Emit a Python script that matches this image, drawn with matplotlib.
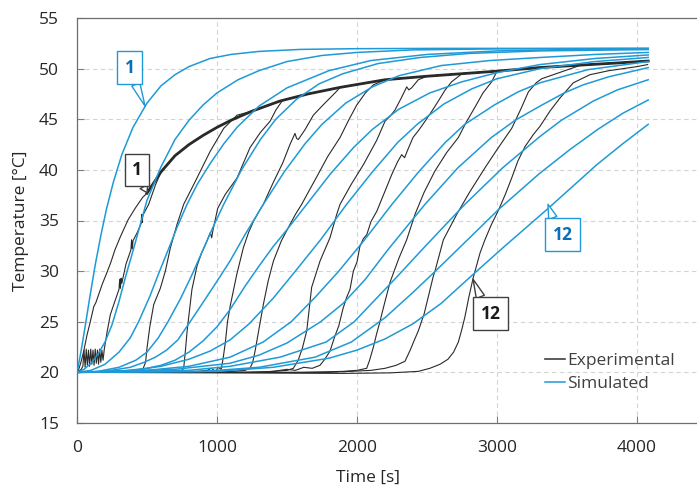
import matplotlib
matplotlib.use('Agg')
import matplotlib.pyplot as plt
from matplotlib.lines import Line2D

# --- simulated temperature curves (time [s], temperature [°C]) ---
sim1_t = [0, 20, 40, 60, 90, 130, 170, 210, 260, 320, 400, 500, 600, 700, 800, 950, 1100, 1300, 1600, 2000, 2600, 3300, 4080]
sim1_T = [20.0, 21.4, 23.0, 24.7, 27.3, 30.6, 33.5, 36.1, 38.8, 41.5, 44.2, 46.6, 48.3, 49.4, 50.2, 51.0, 51.4, 51.7, 51.9, 51.97, 52.0, 52.0, 52.0]

sim2_t = [0, 50, 100, 150, 200, 250, 300, 350, 400, 450, 500, 600, 700, 800, 900, 1000, 1150, 1300, 1500, 1750, 2000, 2400, 3000, 4080]
sim2_T = [20.0, 20.3, 20.9, 21.8, 23.0, 24.7, 27.0, 29.6, 32.0, 34.5, 37.0, 40.3, 43.0, 44.9, 46.4, 47.6, 48.9, 49.8, 50.7, 51.3, 51.6, 51.85, 51.95, 52.0]

sim3_t = [0, 100, 200, 300, 380, 440, 520, 590, 660, 720, 786, 860, 950, 1050, 1143, 1300, 1500, 1800, 2100, 2500, 3000, 3500, 4080]
sim3_T = [20.0, 20.2, 20.8, 22.0, 23.4, 25.0, 27.5, 30.0, 32.4, 34.5, 36.6, 38.6, 40.6, 42.6, 44.2, 46.3, 48.1, 49.8, 50.8, 51.4, 51.75, 51.88, 51.93]

sim4_t = [0, 150, 300, 420, 500, 580, 650, 740, 820, 900, 970, 1048, 1175, 1310, 1420, 1570, 1730, 1900, 2150, 2450, 2800, 3300, 4080]
sim4_T = [20.0, 20.1, 20.5, 21.2, 22.0, 23.4, 25.0, 27.3, 29.6, 32.1, 34.3, 36.6, 40.0, 43.0, 45.0, 47.0, 48.5, 49.5, 50.5, 51.1, 51.5, 51.75, 51.88]

sim5_t = [0, 200, 380, 480, 560, 640, 720, 808, 900, 1000, 1093, 1200, 1331, 1480, 1630, 1750, 1920, 2110, 2300, 2600, 2950, 3307, 3700, 4080]
sim5_T = [20.0, 20.1, 20.5, 21.0, 21.5, 22.2, 23.2, 25.0, 26.9, 29.0, 31.0, 33.6, 36.6, 39.8, 42.6, 44.5, 46.6, 48.2, 49.3, 50.3, 50.8, 51.1, 51.4, 51.6]

sim6_t = [0, 300, 500, 600, 700, 800, 900, 1000, 1093, 1200, 1300, 1400, 1500, 1641, 1810, 1975, 2110, 2300, 2520, 2750, 3000, 3307, 3700, 4080]
sim6_T = [20.0, 20.1, 20.4, 20.7, 21.2, 22.0, 23.1, 24.5, 26.2, 28.5, 30.5, 32.4, 34.1, 36.6, 39.6, 42.2, 44.0, 46.0, 47.6, 48.7, 49.6, 50.4, 51.0, 51.35]

sim7_t = [0, 400, 600, 800, 950, 1093, 1230, 1400, 1560, 1740, 1926, 2110, 2290, 2430, 2620, 2820, 3000, 3307, 3700, 4080]
sim7_T = [20.0, 20.2, 20.6, 21.3, 22.1, 23.2, 24.8, 27.3, 30.0, 33.1, 36.6, 39.8, 42.7, 44.5, 46.5, 48.0, 49.0, 50.0, 50.7, 51.1]

sim8_t = [0, 500, 800, 1093, 1330, 1530, 1700, 1870, 2060, 2250, 2440, 2630, 2770, 2980, 3150, 3307, 3650, 4080]
sim8_T = [20.0, 20.2, 20.6, 21.5, 23.0, 25.0, 27.4, 30.0, 33.2, 36.6, 39.8, 42.7, 44.5, 46.4, 47.7, 48.6, 49.9, 50.7]

sim9_t = [0, 700, 1093, 1300, 1500, 1740, 1900, 2060, 2220, 2350, 2486, 2720, 2960, 3130, 3307, 3480, 3616, 3800, 4080]
sim9_T = [20.0, 20.3, 20.9, 21.7, 22.9, 25.0, 26.8, 29.2, 32.1, 34.3, 36.6, 40.2, 43.2, 44.9, 46.3, 47.6, 48.4, 49.2, 50.1]

sim10_t = [0, 800, 1093, 1450, 1780, 1980, 2200, 2283, 2450, 2620, 2771, 3040, 3307, 3460, 3688, 3860, 4080]
sim10_T = [20.0, 20.2, 20.6, 21.5, 23.0, 25.0, 28.2, 29.4, 31.9, 34.4, 36.6, 40.2, 43.3, 44.9, 46.8, 47.9, 48.9]

sim11_t = [0, 900, 1300, 1700, 1960, 2200, 2400, 2560, 2790, 3020, 3300, 3520, 3720, 3900, 4080]
sim11_T = [20.0, 20.1, 20.5, 21.5, 23.0, 25.4, 27.9, 30.0, 33.1, 36.2, 39.6, 42.0, 44.0, 45.6, 46.9]

sim12_t = [0, 1000, 1400, 1800, 2000, 2200, 2400, 2600, 2831, 3050, 3366, 3712, 3900, 4080]
sim12_T = [20.0, 20.1, 20.5, 21.4, 22.2, 23.3, 24.8, 26.8, 29.7, 32.4, 36.2, 40.5, 42.6, 44.5]

# --- measured curves: common upper trace and individual rising parts ---
env_t = [500, 600, 700, 800, 900, 1000, 1100, 1250, 1450, 1650, 1880, 2050, 2200, 2500, 2750, 3000, 3300, 3600, 3850, 4080]
env_T = [37.7, 39.8, 41.4, 42.5, 43.4, 44.2, 44.9, 45.8, 46.8, 47.5, 48.15, 48.55, 48.9, 49.25, 49.5, 49.75, 50.1, 50.35, 50.55, 50.75]

exp1a_t = [0, 15, 30, 48, 60, 70, 95, 120, 135, 150, 180, 212, 240, 271, 310, 366, 420, 470]
exp1a_T = [20.0, 20.4, 21.1, 22.1, 22.9, 23.6, 25.0, 26.5, 26.9, 27.5, 28.7, 29.8, 30.8, 32.1, 33.4, 35.1, 36.3, 37.3]

exp1b_t = [0, 30, 42, 50, 58, 66, 74, 82, 90, 98, 106, 114, 122, 130, 138, 146, 154, 162, 170, 178, 186, 195, 215, 238, 270,
           300, 305, 310, 315, 320, 350, 385, 390, 395, 400, 430, 458, 462, 466, 470, 512, 560]
exp1b_T = [20.0, 20.3, 20.6, 22.2, 20.5, 22.3, 20.7, 22.2, 20.6, 22.3, 20.8, 22.2, 20.7, 22.3, 20.9, 22.2, 20.8, 22.3, 21.0, 22.2, 21.2, 22.3, 24.0, 25.7, 27.0,
           28.2, 29.2, 28.3, 29.3, 28.8, 30.7, 32.1, 33.1, 32.2, 33.0, 33.8, 34.7, 35.6, 34.8, 35.5, 36.6, 38.5]

exp2_t = [0, 300, 440, 470, 490, 500, 520, 548, 595, 631, 667, 714, 762, 850, 950, 1048, 1143]
exp2_T = [20.0, 20.0, 20.1, 20.3, 21.0, 22.4, 24.5, 26.7, 28.3, 30.0, 32.3, 34.6, 36.6, 39.0, 41.8, 44.1, 45.4]

exp3_t = [0, 500, 700, 750, 762, 774, 786, 805, 821, 857, 890, 917, 952, 962, 972, 1005, 1060, 1143, 1236, 1310, 1379, 1420, 1470]
exp3_T = [20.0, 20.0, 20.1, 20.2, 20.4, 22.1, 24.0, 26.3, 28.2, 30.5, 31.8, 32.6, 33.8, 33.3, 34.1, 36.2, 37.6, 39.2, 42.2, 43.7, 44.8, 45.9, 46.9]

exp4_t = [0, 800, 930, 960, 990, 1010, 1030, 1045, 1060, 1075, 1095, 1140, 1188, 1225, 1260, 1300, 1331, 1400, 1470, 1521, 1557, 1569, 1581, 1630, 1688, 1750, 1807, 1850]
exp4_T = [20.0, 20.0, 20.2, 20.4, 20.1, 20.5, 20.3, 21.5, 23.0, 25.0, 26.6, 29.6, 32.3, 33.8, 34.9, 35.9, 36.6, 38.7, 40.7, 42.5, 43.6, 43.1, 43.0, 44.0, 45.4, 46.3, 47.1, 47.7]

exp5_t = [0, 1000, 1200, 1236, 1255, 1272, 1300, 1331, 1365, 1403, 1460, 1521, 1560, 1605, 1660, 1712, 1790, 1879, 1940, 1998, 2060, 2117]
exp5_T = [20.0, 20.0, 20.2, 20.4, 21.0, 22.1, 24.3, 26.7, 29.0, 31.0, 33.0, 34.6, 35.6, 36.6, 38.0, 39.3, 41.3, 43.2, 44.9, 46.4, 47.6, 48.4]

exp6_t = [0, 1300, 1500, 1545, 1580, 1610, 1641, 1676, 1736, 1807, 1855, 1879, 1960, 2045, 2140, 2200, 2236, 2271, 2320, 2355, 2370, 2390, 2438]
exp6_T = [20.0, 20.0, 20.2, 20.4, 21.2, 22.4, 24.1, 28.4, 31.0, 33.3, 35.6, 36.6, 38.6, 40.5, 42.9, 44.8, 45.3, 45.9, 47.2, 48.2, 47.9, 48.1, 48.9]

exp7_t = [0, 1200, 1400, 1500, 1560, 1620, 1680, 1736, 1770, 1807, 1840, 1870, 1900, 1926, 1950, 1974, 2000, 2020, 2045, 2070, 2100, 2141, 2200, 2250, 2290, 2319, 2340, 2360, 2400, 2440, 2486, 2530, 2581, 2630, 2676]
exp7_T = [20.0, 20.0, 20.1, 20.3, 20.2, 20.5, 20.4, 20.7, 21.3, 22.1, 23.5, 24.6, 26.3, 27.4, 28.2, 30.0, 30.9, 32.4, 33.2, 33.6, 34.9, 35.9, 37.9, 39.6, 40.8, 41.5, 41.2, 41.9, 43.2, 43.9, 44.8, 45.7, 46.8, 47.9, 48.7]

exp8_t = [0, 1600, 1900, 2000, 2069, 2090, 2117, 2140, 2164, 2176, 2200, 2236, 2300, 2355, 2414, 2480, 2557, 2640, 2724, 2780, 2843, 2900, 2962]
exp8_T = [20.0, 20.0, 20.1, 20.2, 20.4, 21.2, 22.5, 23.8, 25.0, 25.7, 27.0, 28.9, 31.3, 33.1, 35.6, 37.8, 39.9, 41.7, 43.2, 44.7, 46.2, 47.6, 48.7]

exp9_t = [0, 1800, 2100, 2200, 2280, 2343, 2380, 2410, 2438, 2480, 2545, 2557, 2617, 2712, 2800, 2914, 3000, 3105, 3170, 3224, 3280, 3319]
exp9_T = [20.0, 20.0, 20.2, 20.4, 20.7, 21.1, 22.2, 23.2, 24.1, 25.8, 29.5, 30.0, 33.1, 35.6, 37.7, 40.2, 42.0, 44.1, 46.0, 47.7, 48.6, 49.0]

exp12_t = [0, 1000, 1900, 2236, 2438, 2520, 2593, 2650, 2690, 2724, 2750, 2771, 2800, 2831, 2879, 2914, 2960, 3010, 3060, 3105, 3150, 3200, 3260, 3307, 3378, 3450, 3545, 3664, 3800, 3902, 4000, 4076]
exp12_T = [20.0, 19.95, 19.9, 19.95, 20.1, 20.4, 20.8, 21.3, 22.0, 23.0, 24.3, 25.5, 27.5, 29.4, 31.8, 33.1, 34.6, 36.0, 37.6, 39.2, 40.9, 42.3, 43.5, 44.3, 45.8, 47.1, 48.6, 49.4, 49.8, 50.0, 50.2, 50.4]

sim_curves = [(sim1_t, sim1_T), (sim2_t, sim2_T), (sim3_t, sim3_T), (sim4_t, sim4_T),
              (sim5_t, sim5_T), (sim6_t, sim6_T), (sim7_t, sim7_T), (sim8_t, sim8_T),
              (sim9_t, sim9_T), (sim10_t, sim10_T), (sim11_t, sim11_T), (sim12_t, sim12_T)]
exp_curves = [(exp1a_t, exp1a_T), (exp1b_t, exp1b_T), (exp2_t, exp2_T), (exp3_t, exp3_T),
              (exp4_t, exp4_T), (exp5_t, exp5_T), (exp6_t, exp6_T), (exp7_t, exp7_T),
              (exp8_t, exp8_T), (exp9_t, exp9_T)]

BLUE = '#1f9ad6'
BLUE_TXT = '#0b6fb8'
DARK = '#2a2a2a'
FS = 12.5

plt.rcParams['font.family'] = ['Open Sans', 'DejaVu Sans']

fig = plt.figure(figsize=(6.97, 4.88), dpi=100)
ax = fig.add_axes([77 / 697, 65 / 488, 620 / 697, 405 / 488])

# measured: each rising part continues along the common upper trace
ax.plot(env_t, env_T, color=DARK, lw=2.0, zorder=2)
for t, T in exp_curves:
    tail_t = [x for x in env_t if x > t[-1]]
    tail_T = [y for x, y in zip(env_t, env_T) if x > t[-1]]
    ax.plot(t + tail_t, T + tail_T, color=DARK, lw=0.8, zorder=2)
ax.plot(exp12_t, exp12_T, color=DARK, lw=0.8, zorder=2)

for t, T in sim_curves:
    ax.plot(t, T, color=BLUE, lw=1.1, zorder=3)

ax.set_xlim(0, 620 / 0.14)
ax.set_ylim(15, 55)
ax.set_xticks([0, 1000, 2000, 3000, 4000])
ax.set_yticks(range(15, 56, 5))
ax.grid(True, linestyle=(0, (4, 3)), color='#d4d4d4', linewidth=0.8)
ax.set_axisbelow(True)
ax.tick_params(direction='in', length=5, width=0.8, color='#7f7f7f',
               labelsize=FS, labelcolor='#262626')
ax.tick_params(axis='y', pad=13)
ax.tick_params(axis='x', pad=12)
for side in ('left', 'bottom', 'top'):
    ax.spines[side].set_color('#6e6e6e')
    ax.spines[side].set_linewidth(0.9)
ax.spines['right'].set_visible(False)

ax.set_xlabel('Time [s]', fontsize=FS, color='#262626')
ax.set_ylabel('Temperature [°C]', fontsize=FS, color='#262626')
ax.xaxis.set_label_coords(0.469, -0.115)
ax.yaxis.set_label_coords(-0.078, 0.5)

handles = [Line2D([], [], color='#404040', lw=1.2), Line2D([], [], color=BLUE, lw=1.1)]
ax.legend(handles, ['Experimental', 'Simulated'], loc='upper left',
          bbox_to_anchor=(0.755, 0.172), frameon=False, fontsize=FS,
          handlelength=1.15, handletextpad=0.1, labelspacing=0.35,
          borderpad=0, borderaxespad=0, labelcolor='#404040')

# curve number callouts
def callout(text, tip, box, color, txt_color, rel):
    ax.annotate(text, xy=tip, xytext=box, textcoords='data', ha='center', va='center',
                fontsize=FS, fontweight='bold', color=txt_color, zorder=6,
                bbox=dict(boxstyle='square,pad=0.42', fc='white', ec=color, lw=1.0),
                arrowprops=dict(arrowstyle='wedge,tail_width=0.5', fc='white', ec=color,
                                lw=1.0, shrinkA=0, shrinkB=0, relpos=rel))

callout('1', (486, 46.3), (375, 50.1), BLUE, BLUE_TXT, (0.8, 0.0))
callout('1', (500, 37.75), (428, 40.0), '#404040', '#1a1a1a', (0.8, 0.0))
callout('12', (3364, 36.6), (3468, 33.6), BLUE, BLUE_TXT, (0.15, 1.0))
callout('12', (2829, 29.2), (2954, 25.8), '#404040', '#1a1a1a', (0.15, 1.0))

fig.savefig('out.png', dpi=100)
